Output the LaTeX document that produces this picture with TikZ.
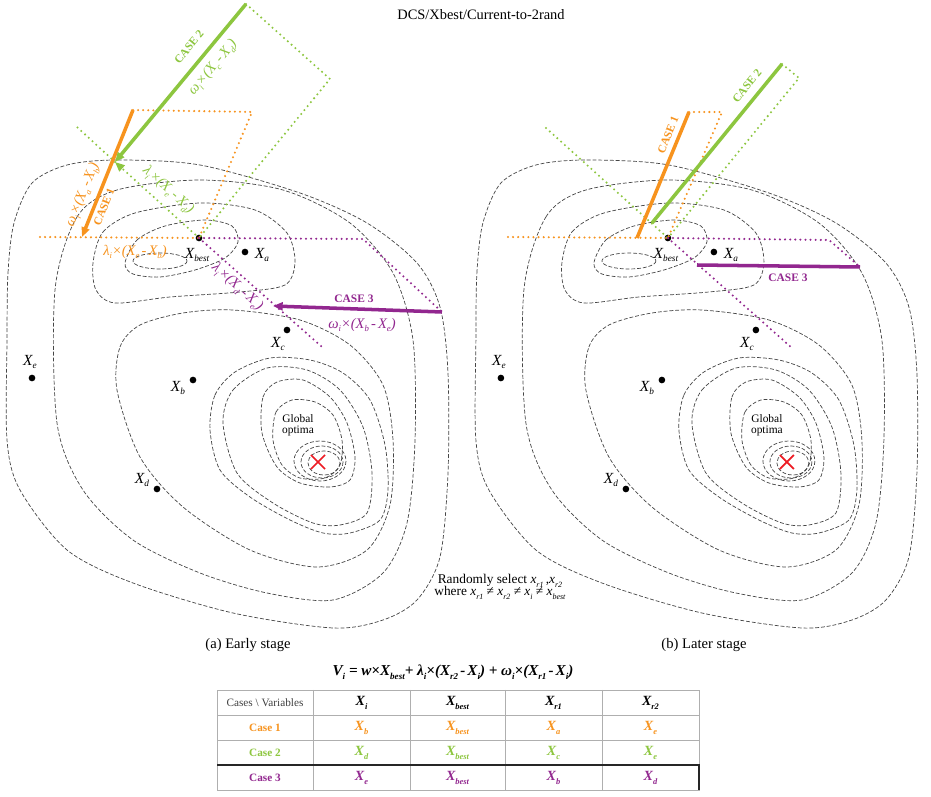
\documentclass[tikz,border=0pt]{standalone}
\usepackage{fontspec}
\setmainfont{Liberation Serif}
\usepackage{graphicx}
\usetikzlibrary{arrows.meta,shapes.misc}
\definecolor{cor}{RGB}{247,147,30}
\definecolor{cgr}{RGB}{141,198,63}
\definecolor{cpu}{RGB}{146,39,143}
\definecolor{cred}{RGB}{237,28,36}
\definecolor{ccont}{RGB}{70,70,70}
\definecolor{tgray}{RGB}{175,175,175}
\newcommand{\sbx}[1]{\raisebox{-0.55ex}{\scalebox{0.6}{#1}}}
\newcommand{\XL}[1]{{\itshape X\sbx{#1}}}
\newcommand{\mn}{\kern1.2pt-\kern1.2pt}
\newcommand{\conts}{%
\draw[contour] plot[smooth cycle] coordinates {(7,340) (8,273) (14,223) (32,183) (67,165) (117,160) (200,165) (300,193) (367,223) (417,263) (440,307) (448,373) (448,473) (440,557) (417,600) (383,620) (333,628) (233,613) (133,583) (67,550) (20,490) (7,440)};
\draw[contour] plot[smooth cycle] coordinates {(55,290) (77,217) (117,190) (200,180) (283,190) (350,223) (393,273) (413,340) (415,440) (407,523) (383,573) (333,600) (267,593) (200,573) (133,540) (83,490) (57,423)};
\draw[contour] plot[smooth cycle] coordinates {(93,263) (103,232) (135,213) (200,203) (255,210) (287,233) (295,262) (285,285) (240,292) (170,297) (115,303) (96,290)};
\draw[contour] plot[smooth cycle] coordinates {(125,263) (137,240) (165,226) (205,220) (232,226) (238,242) (225,258) (195,270) (160,277) (133,274)};
\draw[contour] (160,261) ellipse [x radius=27, y radius=8];
\draw[contour] plot[smooth cycle] coordinates {(117,390) (120,347) (140,325) (183,313) (233,310) (300,320) (350,345) (383,385) (393,440) (390,505) (367,550) (317,567) (250,550) (183,507) (140,457)};
\draw[contour] plot[smooth cycle] coordinates {(210,430) (215,395) (235,372) (270,358) (310,360) (343,373) (370,400) (385,445) (388,490) (380,520) (350,533) (323,533) (290,520) (250,497) (220,470)};
\draw[contour] plot[smooth cycle] coordinates {(223,423) (233,390) (267,368) (307,370) (340,390) (363,427) (372,473) (367,513) (340,525) (313,523) (273,503) (237,473)};
\draw[contour] plot[smooth cycle] coordinates {(262,433) (263,397) (277,382) (303,380) (330,397) (347,423) (355,457) (350,480) (330,487) (300,483) (277,467)};
\draw[contour] plot[smooth cycle] coordinates {(273,440) (276,412) (292,400) (315,402) (333,415) (342,440) (340,465) (325,478) (300,478) (282,465)};
\draw[contour] (320,461) ellipse [x radius=26, y radius=20];
\draw[contour] (322,462) ellipse [x radius=21, y radius=16];
\draw[contour] (324,463) ellipse [x radius=16, y radius=12];
}
\newcommand{\pts}[1]{%
\node[dotn] (#1-best) at (199,238) {};
\node[dotn] (#1-a) at (245,252) {};
\node[dotn] (#1-c) at (287,330) {};
\node[dotn] (#1-b) at (193,380) {};
\node[dotn] (#1-d) at (157,489) {};
\node[dotn] (#1-e) at (32,378) {};
\node[xlab] (#1-lbest) at (197,255) {\XL{best}};
\node[xlab] (#1-la) at (262,255) {\XL{a}};
\node[xlab] (#1-lc) at (278,344) {\XL{c}};
\node[xlab] (#1-lb) at (178,388) {\XL{b}};
\node[xlab] (#1-ld) at (142,480) {\XL{d}};
\node[xlab] (#1-le) at (30,362) {\XL{e}};
\node[optx] (#1-opt) at (318,462) {};
\node[glob] (#1-glob) at (298,425) {Global\\optima};
}
\tikzset{
 contour/.style={draw=ccont, line width=0.4pt, dash pattern=on 2.2pt off 1.1pt},
 vec/.style={line width=2pt},
 dotl/.style={line width=1.3pt, line cap=round, dash pattern=on 0pt off 2.9pt},
 arr/.style={-{Triangle[length=5.5pt,width=4.5pt]}},
 dotn/.style={circle, fill=black, inner sep=0pt, minimum size=3.8pt},
 xlab/.style={font=\fontsize{8.8}{10}\selectfont, inner sep=0pt},
 vlab/.style={font=\fontsize{8.3}{10}\selectfont\itshape, inner sep=0pt},
 clab/.style={font=\fontsize{6.5}{8}\selectfont\bfseries, inner sep=0pt},
 capt/.style={font=\fontsize{8.3}{10}\selectfont, inner sep=0pt},
 glob/.style={font=\fontsize{6.5}{6.5}\selectfont, align=center, inner sep=0pt},
 optx/.style={draw=cred, cross out, line width=1pt, minimum size=7pt, inner sep=0pt},
 tline/.style={draw=tgray, line width=0.5pt},
 tcell/.style={font=\fontsize{8}{9}\selectfont\bfseries\itshape, inner sep=0pt},
 thead/.style={font=\fontsize{6.4}{8}\selectfont, text=black!75, inner sep=0pt},
 tcase/.style={font=\fontsize{6.4}{8}\selectfont\bfseries, inner sep=0pt},
 rs/.style={font=\fontsize{7.6}{9}\selectfont, inner sep=0pt},
}
\begin{document}
\begin{tikzpicture}[x=0.02cm,y=-0.02cm]
\fill[white] (0,0) rectangle (931,797);
\useasboundingbox (0,0) rectangle (931,797);
\node[font=\fontsize{8.2}{10}\selectfont] (title) at (481,15) {DCS/Xbest/Current-to-2rand};
% contours
\conts
\begin{scope}[xshift=9.38cm]\conts\end{scope}
% points
\pts{a}
\begin{scope}[xshift=9.38cm]\pts{b}\end{scope}
% ---------- left panel vectors
\coordinate (a-o0) at (40,237);
\coordinate (a-o1) at (82,237);
\coordinate (a-o2) at (133,110);
\coordinate (a-o3) at (252,112);
\coordinate (a-g0) at (77,127);
\coordinate (a-g1) at (115,162);
\coordinate (a-g2) at (246,4);
\coordinate (a-g3) at (330,79);
\coordinate (a-p0) at (322,347);
\coordinate (a-p1) at (273,306);
\coordinate (a-p2) at (442,312);
\coordinate (a-p3) at (363,239);
\draw[dotl, cor] (a-o0) -- (a-best.center);
\draw[dotl, cor] (a-o2) -- (a-o3) -- (a-best.center);
\draw[dotl, cgr] (a-g1) -- (a-g0);
\draw[dotl, cgr, arr] (a-best.center) -- (a-g1);
\draw[dotl, cgr] (a-g2) -- (a-g3) -- (a-best.center);
\draw[dotl, cpu] (a-best.center) -- (a-p3) -- (a-p2);
\draw[dotl, cpu] (a-best.center) -- (a-p0);
\draw[vec, cor, arr] (a-o2) -- (a-o1);
\draw[vec, cgr, arr] (a-g2) -- (a-g1);
\draw[vec, cpu, arr] (a-p2) -- (a-p1);
\node[clab, cgr, rotate=50] (a-c2) at (189,47) {CASE 2};
\node[vlab, cgr, rotate=50] (a-w2) at (213,68) {ω\sbx{i}×(X\sbx{c}\mn X\sbx{d})};
\node[vlab, cor, rotate=68] (a-w1) at (83,195) {ω\sbx{i}×(X\sbx{a}\mn X\sbx{b})};
\node[clab, cor, rotate=68] (a-c1) at (104,207) {CASE 1};
\node[vlab, cgr, rotate=-42] (a-l2) at (168,190) {λ\sbx{i}×(X\sbx{e}\mn X\sbx{d})};
\node[vlab, cor] (a-l1) at (135,252) {λ\sbx{i}×(X\sbx{e}\mn X\sbx{b})};
\node[vlab, cpu, rotate=-42] (a-l3) at (237,287) {λ\sbx{i}×(X\sbx{d}\mn X\sbx{e})};
\node[clab, cpu] (a-c3) at (354,299) {CASE 3};
\node[vlab, cpu] (a-w3) at (362,325) {ω\sbx{i}×(X\sbx{b}\mn X\sbx{e})};
% ---------- right panel vectors
\coordinate (b-o0) at (508,237);
\coordinate (b-o1) at (637,238);
\coordinate (b-o2) at (689,112);
\coordinate (b-o3) at (722,112);
\coordinate (b-g0) at (546,128);
\coordinate (b-g1) at (652,223);
\coordinate (b-g2) at (782,64);
\coordinate (b-g3) at (799,78);
\coordinate (b-p0) at (792,348);
\coordinate (b-p1) at (697,265);
\coordinate (b-p2) at (860,267);
\coordinate (b-p3) at (829,240);
\draw[dotl, cor] (b-o0) -- (b-best.center);
\draw[dotl, cor] (b-o2) -- (b-o3) -- (b-best.center);
\draw[dotl, cgr] (b-g0) -- (b-best.center);
\draw[dotl, cgr] (b-g2) -- (b-g3) -- (b-best.center);
\draw[dotl, cpu] (b-best.center) -- (b-p3) -- (b-p2);
\draw[dotl, cpu] (b-best.center) -- (b-p0);
\draw[vec, cor] (b-o2) -- (b-o1);
\draw[vec, cgr] (b-g2) -- (b-g1);
\draw[vec, cpu] (b-p2) -- (b-p1);
\node[clab, cor, rotate=67.6] (b-c1) at (668,135) {CASE 1};
\node[clab, cgr, rotate=50.7] (b-c2) at (747,86) {CASE 2};
\node[clab, cpu] (b-c3) at (788,278) {CASE 3};
% captions
\node[capt] (capa) at (248,645) {(a) Early stage};
\node[capt] (capb) at (704,645) {(b) Later stage};
\node[rs] (rs1) at (500,581) {Randomly select \textit{x}\sbx{\textit{r1}}\,,\textit{x}\sbx{\textit{r2}}};
\node[rs] (rs2) at (500,593) {where \textit{x}\sbx{\textit{r1}} ≠ \textit{x}\sbx{\textit{r2}} ≠ \textit{x}\sbx{\textit{i}} ≠ \textit{x}\sbx{\textit{best}}};
% formula
\node[font=\fontsize{8.6}{10}\selectfont\bfseries\itshape, inner sep=0pt] (formula) at (453,672)
 {V\sbx{i} = w×X\sbx{best}+ λ\sbx{i}×(X\sbx{r2}\mn X\sbx{i}) + ω\sbx{i}×(X\sbx{r1}\mn X\sbx{i})};
% table
\draw[tline] (217,690) rectangle (699,790);
\foreach \yy in {715,740} \draw[tline] (217,\yy) -- (699,\yy);
\foreach \xx in {313,410,505,602} \draw[tline] (\xx,690) -- (\xx,790);
\draw[black!85, line width=0.8pt] (217,765) -- (699,765) -- (699,790);
\node[thead] (t-h0) at (265,702.5) {Cases \textbackslash{} Variables};
\node[tcell] (t-h1) at (361.5,703) {X\sbx{i}};
\node[tcell] (t-h2) at (457.5,703) {X\sbx{best}};
\node[tcell] (t-h3) at (553.5,703) {X\sbx{r1}};
\node[tcell] (t-h4) at (650.5,703) {X\sbx{r2}};
\node[tcase, cor] (t-r1) at (265,727.5) {Case 1};
\node[tcell, cor] (t-r1a) at (361.5,728) {X\sbx{b}};
\node[tcell, cor] (t-r1b) at (457.5,728) {X\sbx{best}};
\node[tcell, cor] (t-r1c) at (553.5,728) {X\sbx{a}};
\node[tcell, cor] (t-r1d) at (650.5,728) {X\sbx{e}};
\node[tcase, cgr] (t-r2) at (265,752.5) {Case 2};
\node[tcell, cgr] (t-r2a) at (361.5,753) {X\sbx{d}};
\node[tcell, cgr] (t-r2b) at (457.5,753) {X\sbx{best}};
\node[tcell, cgr] (t-r2c) at (553.5,753) {X\sbx{c}};
\node[tcell, cgr] (t-r2d) at (650.5,753) {X\sbx{e}};
\node[tcase, cpu] (t-r3) at (265,777.5) {Case 3};
\node[tcell, cpu] (t-r3a) at (361.5,778) {X\sbx{e}};
\node[tcell, cpu] (t-r3b) at (457.5,778) {X\sbx{best}};
\node[tcell, cpu] (t-r3c) at (553.5,778) {X\sbx{b}};
\node[tcell, cpu] (t-r3d) at (650.5,778) {X\sbx{d}};
\end{tikzpicture}
\end{document}
